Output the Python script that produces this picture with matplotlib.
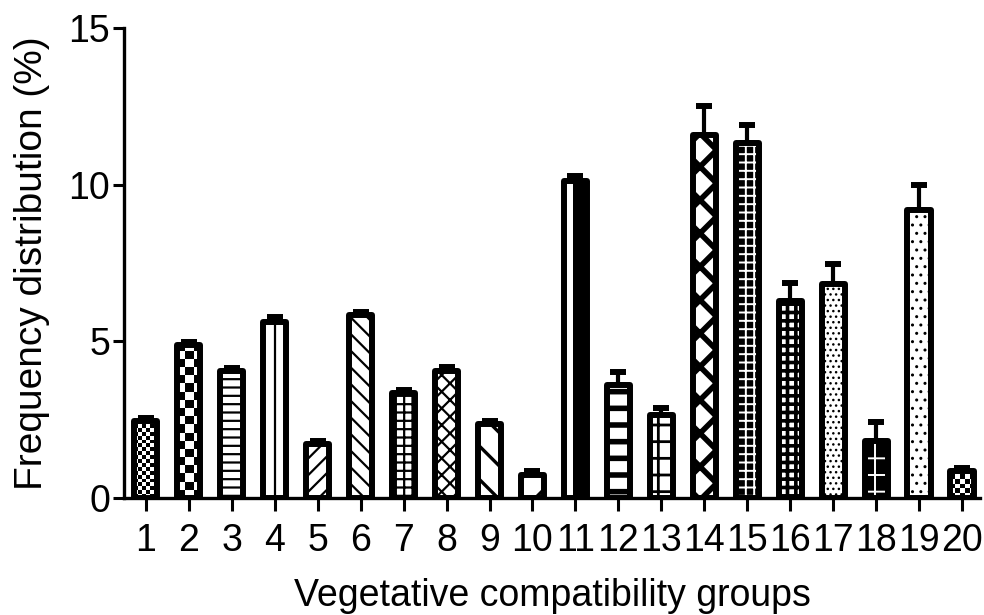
import numpy as np
import matplotlib
matplotlib.use("Agg")
import matplotlib.pyplot as plt

plt.rcParams['font.family'] = ['Liberation Sans', 'DejaVu Sans']
plt.rcParams['hatch.linewidth'] = 1.6

# Vegetative compatibility group frequencies (%) and standard errors
groups = [str(i) for i in range(1, 21)]
freq = [2.47, 4.87, 4.05, 5.62, 1.72, 5.83, 3.35, 4.05, 2.35, 0.75,
        10.12, 3.61, 2.65, 11.60, 11.33, 6.29, 6.83, 1.82, 9.19, 0.85]
err = [0.10, 0.10, 0.10, 0.15, 0.10, 0.12, 0.10, 0.12, 0.10, 0.10,
       0.15, 0.42, 0.22, 0.92, 0.57, 0.58, 0.64, 0.61, 0.80, 0.10]

# fill style per group: (kind, pattern, face, hatch colour, hatch linewidth)
styles = [
    ("checker", 0.09, None, None, None),
    ("checker", 0.19, None, None, None),
    ("hatch", "--", "white", "black", 1.6),
    ("hatch", "|", "white", "black", 1.6),
    ("hatch", "//", "white", "black", 1.6),
    ("hatch", "\\\\", "white", "black", 1.6),
    ("hatch", "++", "white", "black", 1.6),
    ("hatch", "xx", "white", "black", 1.6),
    ("hatch", "\\", "white", "black", 2.4),
    ("hatch", "/", "white", "black", 2.4),
    ("half", None, "white", "black", None),
    ("hatch", "-", "white", "black", 4.0),
    ("hatch", "+", "white", "black", 2.0),
    ("hatch", "x", "white", "black", 4.0),
    ("hatch", "++", "black", "white", 1.4),
    ("hatch", "++", "white", "black", 2.6),
    ("hatch", "...", "white", "black", 1.0),
    ("hatch", "+", "black", "white", 1.4),
    ("hatch", "..", "white", "black", 1.0),
    ("checker", 0.11, None, None, None),
]

x = np.arange(1, len(groups) + 1)
width = 0.54
edge_lw = 4.3

fig = plt.figure(figsize=(9.84, 6.15), dpi=100)
ax = fig.add_axes([0.126, 0.1902, 0.87, 0.764])


def add_checker(bar, cell_w):
    x0, w, h = bar.get_x(), bar.get_width(), bar.get_height()
    cell_h = cell_w * 42.95 / 31.33
    nx = int(np.ceil(w / cell_w))
    ny = int(np.ceil(h / cell_h))
    arr = (np.add.outer(np.arange(ny), np.arange(nx)) % 2).astype(float)
    im = ax.imshow(arr, cmap="gray", vmin=0, vmax=1, origin="lower",
                   extent=(x0, x0 + nx * cell_w, 0, ny * cell_h),
                   interpolation="nearest", aspect="auto", zorder=2.5)
    im.set_clip_path(bar)


# error bars (upper side only)
ax.errorbar(x, freq, yerr=[np.zeros(len(err)), err], fmt="none",
            ecolor="black", elinewidth=3.0, capsize=5.5, capthick=4.3,
            zorder=1.5)

for xi, v, st in zip(x, freq, styles):
    kind, pat, face, hcol, hlw = st
    base_face = face if face is not None else "white"
    base = ax.bar(xi, v, width=width, color=base_face, linewidth=0,
                  zorder=2)[0]
    if kind == "checker":
        add_checker(base, pat)
    elif kind == "half":
        ax.bar(xi + width / 5, v, width=width * 0.6, color="black",
               linewidth=0, zorder=2.5)
    else:
        with plt.rc_context({"hatch.linewidth": hlw}):
            hb = ax.bar(xi, v, width=width, facecolor="none",
                        edgecolor=hcol, linewidth=0, hatch=pat,
                        zorder=2.5)[0]
        if hasattr(hb, "set_hatch_linewidth"):
            hb.set_hatch_linewidth(hlw)
    ax.bar(xi, v, width=width, facecolor="none", edgecolor="black",
           linewidth=edge_lw, joinstyle="round", zorder=3)

ax.set_xlim(0.49, 20.42)
ax.set_ylim(0, 15)
ax.set_yticks([0, 5, 10, 15])
ax.set_xticks(x)
ax.set_xticklabels(groups)

for s in ("top", "right"):
    ax.spines[s].set_visible(False)
for s in ("left", "bottom"):
    ax.spines[s].set_linewidth(2.4)

ax.tick_params(axis="y", direction="out", length=8, width=2.2,
               labelsize=27, pad=2)
ax.tick_params(axis="x", direction="out", length=9, width=2.2,
               labelsize=27, pad=9)

ax.set_ylabel("Frequency distribution (%)", fontsize=28, labelpad=13)
ax.set_xlabel("Vegetative compatibility groups", fontsize=27, labelpad=14)

fig.savefig("out.png", dpi=100)
